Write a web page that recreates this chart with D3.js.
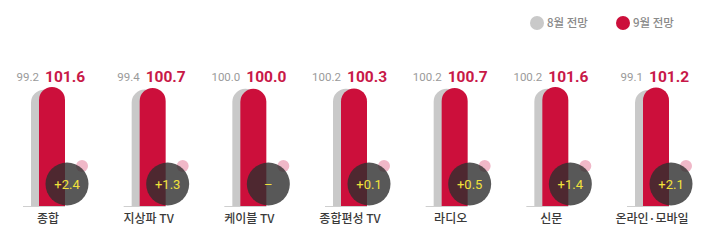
<!DOCTYPE html>
<html>
<head>
<meta charset="utf-8">
<title>8월 9월 전망</title>
<script src="https://d3js.org/d3.v7.min.js"></script>
<style>
  body { margin: 0; background: #fff; }
  svg { display: block; }
</style>
</head>
<body>
<svg width="710" height="247"></svg>
<script>

var categories = ["종합", "지상파 TV", "케이블 TV", "종합편성 TV", "라디오", "신문", "온라인·모바일"];
var august = [99.2, 99.4, 100.0, 100.2, 100.2, 100.2, 99.1];
var september = [101.6, 100.7, 100.0, 100.3, 100.7, 101.6, 101.2];
var changes = ["+2.4", "+1.3", "–", "+0.1", "+0.5", "+1.4", "+2.1"];
var legendLabels = ["8월 전망", "9월 전망"];

var svg = d3.select("svg");

var grey = "#c9c9c9", red = "#cc0f3b", redText = "#c81848";
var numFont = "Roboto, 'Noto Sans', sans-serif";
var krFont = "'Noto Sans CJK KR', sans-serif";

var x = d3.scalePoint().domain(categories).range([50, 654]);
var y = d3.scaleLinear().domain([0, 101.6]).range([206, 87]);

var barW = 26;

var data = categories.map(function(c, i) {
  return {name: c, aug: august[i], sep: september[i], diff: changes[i]};
});

// legend
var legend = svg.append("g");
legendLabels.forEach(function(l, i) {
  var lx = 537 + i * 86;
  legend.append("circle").attr("cx", lx).attr("cy", 23).attr("r", 7)
      .attr("fill", i ? red : grey);
  legend.append("text").attr("x", lx + 10).attr("y", 27)
      .attr("font-family", krFont).attr("font-size", 11.5).attr("font-weight", 500)
      .attr("fill", "#8a8a8a")
      .text(l);
});

var col = svg.selectAll(".col")
  .data(data)
  .enter().append("g")
    .attr("class", "col")
    .attr("transform", function(d) { return "translate(" + x(d.name) + ",0)"; });

function roundTop(x0, w, top, bottom) {
  var r = w / 2;
  return "M" + x0 + "," + bottom + "V" + (top + r) +
    "A" + r + "," + r + " 0 0 1 " + (x0 + w) + "," + (top + r) +
    "V" + bottom + "Z";
}

// baseline
col.append("line")
    .attr("x1", -27).attr("x2", 15)
    .attr("y1", y(0) + 0.5).attr("y2", y(0) + 0.5)
    .attr("stroke", "#cfcfcf");

col.append("path")
    .attr("d", function(d) { return roundTop(-19, barW, y(d.aug), y(0)); })
    .attr("fill", grey);

col.append("path")
    .attr("d", function(d) { return roundTop(-11, barW, y(d.sep), y(0)); })
    .attr("fill", red);

col.append("circle")
    .attr("cx", 32).attr("cy", 166).attr("r", 6)
    .attr("fill", "#f0b8c8");

col.append("circle")
    .attr("cx", 17).attr("cy", 184).attr("r", 21.5)
    .attr("fill", "#2e2e2e").attr("fill-opacity", 0.8);

col.append("text")
    .attr("x", 17).attr("y", 189)
    .attr("text-anchor", "middle")
    .attr("font-family", numFont).attr("font-size", 13)
    .attr("fill", "#f2e23a")
    .text(function(d) { return d.diff; });

col.append("text")
    .attr("x", -11).attr("y", 81)
    .attr("text-anchor", "end")
    .attr("font-family", numFont).attr("font-size", 11.5)
    .attr("fill", "#9a9a9a")
    .text(function(d) { return d.aug.toFixed(1); });

col.append("text")
    .attr("x", -5).attr("y", 82)
    .attr("font-family", numFont).attr("font-size", 15.5).attr("font-weight", "bold")
    .attr("fill", redText)
    .text(function(d) { return d.sep.toFixed(1); });

col.append("text")
    .attr("x", -2).attr("y", 223)
    .attr("text-anchor", "middle")
    .attr("font-family", krFont).attr("font-size", 12).attr("font-weight", 500)
    .attr("fill", "#3a3a3a")
    .text(function(d) { return d.name; });

</script>
</body>
</html>
